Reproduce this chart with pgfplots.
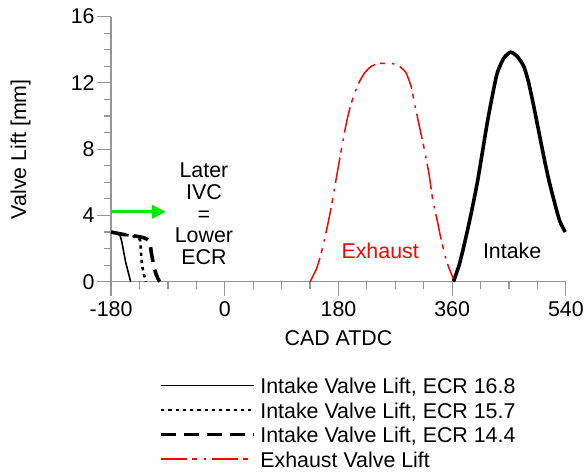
\documentclass[border=0pt]{standalone}
\usepackage{fontspec}
\setmainfont{Liberation Sans}
\usepackage{pgfplots}
\pgfplotsset{compat=1.18}
\usetikzlibrary{arrows.meta}
\definecolor{axgray}{RGB}{150,150,150}
\definecolor{arrowgreen}{RGB}{0,235,0}
\begin{document}
\begin{tikzpicture}[font=\fontsize{21.5}{22}\selectfont]
\begin{axis}[
  scale only axis, width=457.3pt, height=266.6pt,
  xmin=-180, xmax=540, ymin=0, ymax=16,
  axis lines=left,
  axis line style={-, draw=axgray, line width=1.2pt},
  xtick={-180,0,180,360,540}, xticklabels={-180,0,180,360,540},
  ytick={0,4,8,12,16}, yticklabels={0,4,8,12,16},
  minor x tick num=3, minor y tick num=3,
  tick align=outside, major tick length=14pt, minor tick length=7pt,
  every tick/.style={draw=axgray, line width=1.2pt},
  xticklabel style={anchor=north, yshift=-2pt},
  yticklabel style={anchor=east, xshift=1pt},
  xlabel={CAD ATDC},
  xlabel style={at={(axis description cs:0.5,-0.213)}, anchor=center},
  ylabel={Valve Lift [mm]},
  ylabel style={at={(axis description cs:-0.199,0.5)}, anchor=center},
  clip=false,
  legend cell align=left,
  legend style={at={(axis description cs:0.1056,-0.366)}, anchor=north west,
    draw=none, fill=none, inner sep=0pt, row sep=5.6pt, column sep=5pt,
    nodes={inner sep=0pt, text height=15pt, text depth=4pt}},
  legend image code/.code={\draw[#1] (0pt,0.3em) -- (93pt,0.3em);},
]
% ECR 16.8 (solid)
\addplot[black, line width=1.6pt, smooth, tension=0.4] coordinates {
(-180,3.0) (-172,2.9) (-166,2.8) (-163,2.4) (-160,1.8) (-157,1.2) (-153,0.6) (-149,0)
};
\addlegendentry{Intake Valve Lift, ECR 16.8}
% ECR 15.7 (dotted)
\addplot[black, line width=2.6pt, dash pattern=on 3.3pt off 4pt, smooth, tension=0.4] coordinates {
(-180,3.0) (-160,2.85) (-145,2.75) (-138,2.7) (-134,2.5) (-133,2.0) (-132,1.4) (-130,0.8) (-127,0.3) (-125,0)
};
\addlegendentry{Intake Valve Lift, ECR 15.7}
% ECR 14.4 (dashed)
\addplot[black, line width=3.6pt, dash pattern=on 15pt off 8pt, smooth, tension=0.4] coordinates {
(-180,3.0) (-160,2.85) (-140,2.75) (-128,2.65) (-121,2.5) (-118,2.2) (-116,1.7) (-113,1.1) (-110,0.6) (-106,0.2) (-103,0)
};
\addlegendentry{Intake Valve Lift, ECR 14.4}
% Exhaust
\addplot[red, line width=1.5pt, dash pattern=on 26pt off 5pt on 5pt off 7pt on 2.5pt off 6pt, smooth, tension=0.4] coordinates {
(135,0) (145.4,0.8) (153.2,1.8) (161.1,3.1) (169.0,4.6) (176.8,6.3) (184.7,8.0) (192.6,9.6) (200.5,10.8) (211.0,11.9) (221.4,12.6) (231.9,13.0) (242.4,13.16) (254,13.18) (266.1,13.16) (276.6,13.0) (287.0,12.6) (294.9,11.8) (300.2,10.8) (308.0,9.4) (315.9,8.0) (323.8,6.4) (329.0,5.0) (336.9,3.6) (342.2,2.6) (350.0,1.4) (355.3,0.8) (364,0)
};
\addlegendentry{Exhaust Valve Lift}
% Main intake (all three overlap)
\addplot[black, line width=3.6pt, smooth, tension=0.4, forget plot] coordinates {
(362,0) (371.0,1.0) (378.9,2.2) (389.4,4.0) (399.9,6.0) (407.8,7.8) (415.6,9.6) (423.5,11.2) (431.4,12.6) (441.9,13.5) (452.4,13.85) (462.9,13.6) (473.4,13.0) (481.2,12.0) (489.1,10.6) (497.0,9.1) (504.8,7.6) (512.7,6.2) (520.6,5.0) (530.0,3.7) (539.0,3.0)
};
\draw[arrowgreen, line width=3pt, -{Triangle[length=14pt,width=13pt]}] (axis cs:-180,4.22) -- (axis cs:-93,4.22);
\node[align=center, anchor=center, inner sep=0pt] at (axis cs:-33,4.1) {Later\\IVC\\=\\Lower\\ECR};
\node[red, anchor=center, inner sep=0pt] at (axis cs:246,1.85) {Exhaust};
\node[black, anchor=center, inner sep=0pt] at (axis cs:455,1.85) {Intake};
\coordinate (O) at (rel axis cs:0,0);
\end{axis}
\path (O) ++(-111.7pt,-189.7pt) rectangle ++(587pt,473pt);
\end{tikzpicture}
\end{document}
